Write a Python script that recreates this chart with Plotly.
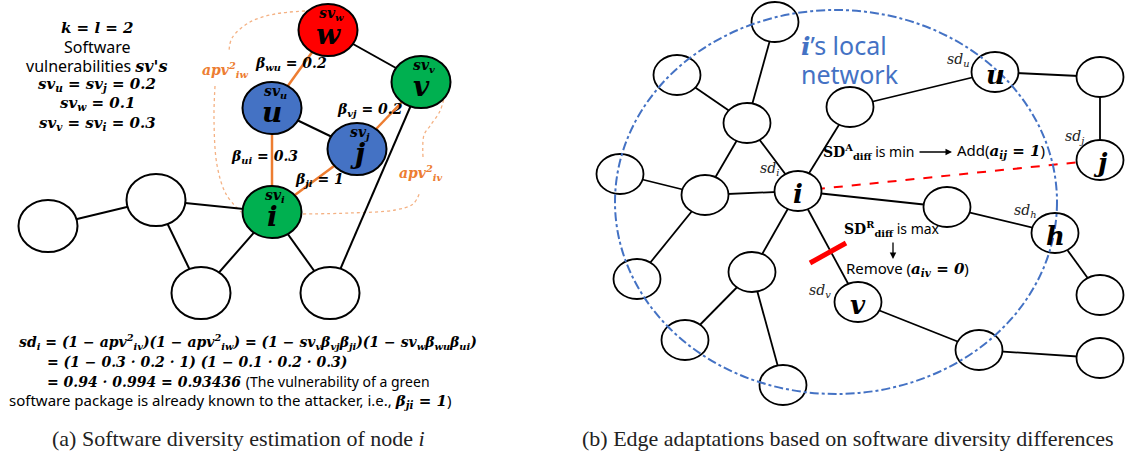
import plotly.graph_objects as go

W, H = 1130, 455
SERIF = "Liberation Serif"
MATH = "DejaVu Serif"
SANS = "Noto Sans"

# ---------------- Panel (a): data ----------------
a_names = ["w", "v", "u", "j", "i", "A", "B", "C", "D"]
a_x = [328, 421, 272, 357, 272, 48, 156, 201, 330]
a_y = [30, 82, 108, 149, 212, 226, 200, 293, 293]
a_fill = ["#FF0000", "#00B050", "#4472C4", "#4472C4", "#00B050", "white", "white", "white", "white"]
a_black_edges = [("w", "v"), ("u", "j"), ("A", "B"), ("B", "i"), ("B", "C"), ("C", "i"), ("i", "D"), ("D", "v")]
a_orange_edges = [("w", "u"), ("u", "i"), ("j", "i"), ("j", "v")]
a_letters = ["w", "v", "u", "j", "i"]
a_sv_subs = ["w", "v", "u", "j", "i"]
beta_labels = ["β<sub>wu</sub> = 0.2", "β<sub>vj</sub> = 0.2", "β<sub>ui</sub> = 0.3", "β<sub>ji</sub> = 1"]
beta_x = [291, 370, 264, 319]
beta_y = [64, 110, 157, 180]
apv_labels = ["apv<sup>2</sup><sub>iw</sub>", "apv<sup>2</sup><sub>iv</sub>"]
apv_x = [225, 421]
apv_y = [70, 173]
curve1_x = [305, 275, 250, 232, 229]
curve1_y = [11, 14, 22, 38, 52]
curve2_x = [215, 214, 217, 226, 241]
curve2_y = [86, 120, 165, 194, 212]
curve3_x = [303, 350, 395, 413, 420]
curve3_y = [214, 213, 210, 204, 192]
curve4_x = [423, 424, 430, 440, 444]
curve4_y = [157, 135, 126, 111, 98]

# ---------------- Panel (b): data ----------------
b_names = ["i", "u", "j", "h", "v", "N1", "N15", "N3", "N4", "N5", "N2", "N10",
           "N11", "N12", "N13", "N14", "Nmid", "N6", "M", "R"]
b_x = [798, 995, 1100, 1055, 858, 775, 677, 747, 850, 1100, 620, 705,
       637, 752, 685, 783, 947, 1100, 979, 1100]
b_y = [191, 72, 160, 233, 302, 22, 75, 123, 107, 77, 174, 195,
       279, 272, 340, 385, 207, 295, 350, 358]
b_edges = [("N1", "N3"), ("N15", "N3"), ("N3", "i"), ("N3", "N10"), ("N2", "N10"),
           ("N10", "i"), ("N10", "N11"), ("N4", "i"), ("N4", "u"), ("u", "N5"),
           ("N5", "j"), ("i", "Nmid"), ("Nmid", "h"), ("h", "N6"), ("i", "N12"),
           ("N12", "N13"), ("N12", "N14"), ("i", "v"), ("v", "M"), ("M", "R")]
b_letters = ["i", "u", "j", "h", "v"]
sd_subs = ["i", "u", "j", "h", "v"]
sd_x = [769, 958, 1074, 1025, 820]
sd_y = [169, 60, 137, 211, 291]
added_edge = ("i", "j")
removed_mark_x = [810, 846]
removed_mark_y = [263, 243]
local_center = (836, 202)
local_radius = (221, 192)

fig = go.Figure()

apos = {n: (x, y) for n, x, y in zip(a_names, a_x, a_y)}
bpos = {n: (x, y) for n, x, y in zip(b_names, b_x, b_y)}

def add_edges(edges, pos, color, width, dash="solid"):
    xs, ys = [], []
    for s, t in edges:
        xs += [pos[s][0], pos[t][0], None]
        ys += [pos[s][1], pos[t][1], None]
    fig.add_trace(go.Scatter(x=xs, y=ys, mode="lines",
                             line=dict(color=color, width=width, dash=dash),
                             hoverinfo="skip", showlegend=False))

# dotted apv curves
for cx, cy in [(curve1_x, curve1_y), (curve2_x, curve2_y), (curve3_x, curve3_y), (curve4_x, curve4_y)]:
    fig.add_trace(go.Scatter(x=cx, y=cy, mode="lines",
                             line=dict(color="#F4B183", width=1.3, dash="dot", shape="spline"),
                             hoverinfo="skip", showlegend=False))

add_edges(a_black_edges, apos, "black", 2)
add_edges(a_orange_edges, apos, "#ED7D31", 2.5)
add_edges(b_edges, bpos, "black", 1.8)
add_edges([added_edge], bpos, "#FF0000", 2, dash="dash")
fig.add_trace(go.Scatter(x=removed_mark_x, y=removed_mark_y, mode="lines",
                         line=dict(color="#FF0000", width=5),
                         hoverinfo="skip", showlegend=False))

shapes = []
for n, x, y, f in zip(a_names, a_x, a_y, a_fill):
    shapes.append(dict(type="circle", xref="x", yref="y", x0=x - 29.5, x1=x + 29.5,
                       y0=y - 26, y1=y + 26, fillcolor=f,
                       line=dict(color="black", width=2), layer="above"))
for n, x, y in zip(b_names, b_x, b_y):
    shapes.append(dict(type="circle", xref="x", yref="y", x0=x - 23.5, x1=x + 23.5,
                       y0=y - 20, y1=y + 20, fillcolor="white",
                       line=dict(color="black", width=1.8), layer="above"))
cx0, cy0 = local_center
rx, ry = local_radius
shapes.append(dict(type="circle", xref="x", yref="y", x0=cx0 - rx, x1=cx0 + rx,
                   y0=cy0 - ry, y1=cy0 + ry, fillcolor="rgba(0,0,0,0)",
                   line=dict(color="#4472C4", width=2, dash="dashdot"), layer="above"))

ann = []

def txt(x, y, text, size=15, color="black", family=MATH, xanchor="center", yanchor="middle"):
    ann.append(dict(x=x, y=y, xref="x", yref="y", text=text, showarrow=False,
                    font=dict(size=size, color=color, family=family),
                    xanchor=xanchor, yanchor=yanchor))

def mb(s):
    return f'<span style="font-family:{MATH}"><b><i>{s}</i></b></span>'

def mi(s):
    return f'<span style="font-family:{MATH}"><i>{s}</i></span>'

def sans(s):
    return f'<span style="font-family:{SANS}">{s}</span>'

# node letters and sv labels (a)
for n in a_letters:
    x, y = apos[n]
    txt(x, y + 4, mb(n), size=28)
for n in a_sv_subs:
    x, y = apos[n]
    txt(x + 3, y - 16, mb(f"sv<sub>{n}</sub>"), size=14)
for t, x, y in zip(beta_labels, beta_x, beta_y):
    txt(x, y, mb(t), size=14)
for t, x, y in zip(apv_labels, apv_x, apv_y):
    txt(x, y, mb(t), size=14, color="#ED7D31")

# left text block
left_lines = [
    mb("k = l = 2"),
    sans("Software"),
    sans("vulnerabilities ") + mb("sv's"),
    mb("sv<sub>u</sub> = sv<sub>j</sub> = 0.2"),
    mb("sv<sub>w</sub> = 0.1"),
    mb("sv<sub>v</sub> = sv<sub>i</sub> = 0.3"),
]
left_size = [15, 16, 16, 15, 15, 15]
left_y = [28, 47, 66, 84, 103, 123]
for t, s, y in zip(left_lines, left_size, left_y):
    txt(97, y, t, size=s)

# formula
formula = [
    mb("sd<sub>i</sub> = (1 − apv<sup>2</sup><sub>iv</sub>)(1 − apv<sup>2</sup><sub>iw</sub>) = (1 − sv<sub>v</sub>β<sub>vj</sub>β<sub>ji</sub>)(1 − sv<sub>w</sub>β<sub>wu</sub>β<sub>ui</sub>)"),
    mb("= (1 − 0.3 · 0.2 · 1) (1 − 0.1 · 0.2 · 0.3)"),
    mb("= 0.94 · 0.994 = 0.93436 ") + sans("(The vulnerability of a green"),
    sans("software package is already known to the attacker, i.e., ") + mb("β<sub>ji</sub> = 1") + sans(")"),
]
formula_x = [17, 45, 45, 7]
formula_y = [342, 362, 381, 400]
formula_size = [14, 14, 14, 15]
for t, x, y, s in zip(formula, formula_x, formula_y, formula_size):
    txt(x, y, t, size=s, xanchor="left")

# panel (b) letters and sd labels
for n in b_letters:
    x, y = bpos[n]
    txt(x, y + 3, mb(n), size=26)
for s, x, y in zip(sd_subs, sd_x, sd_y):
    txt(x, y, mi(f"sd<sub>{s}</sub>"), size=14, color="#222222")

txt(799, 45, mb("i") + sans("’s local"), size=25, color="#4472C4", xanchor="left")
txt(799, 74, sans("network"), size=25, color="#4472C4", xanchor="left")

txt(868, 152, f'<span style="font-family:{MATH}"><b>SD<sup>A</sup><sub>diff</sub></b></span>' + sans(" is min"), size=14)
txt(1001, 150, sans("Add(") + mb("a<sub>ij</sub> = 1") + sans(")"), size=15)
txt(892, 229, f'<span style="font-family:{MATH}"><b>SD<sup>R</sup><sub>diff</sub></b></span>' + sans(" is max"), size=14)
txt(907, 268, sans("Remove (") + mb("a<sub>iv</sub> = 0") + sans(")"), size=15)

ann.append(dict(x=952, y=152, ax=918, ay=152, xref="x", yref="y", axref="x", ayref="y",
                text="", showarrow=True, arrowhead=2, arrowsize=1, arrowwidth=1.3, arrowcolor="black"))
ann.append(dict(x=893, y=259, ax=893, ay=241, xref="x", yref="y", axref="x", ayref="y",
                text="", showarrow=True, arrowhead=2, arrowsize=1, arrowwidth=1.3, arrowcolor="black"))

# captions
txt(238, 438, "(a) Software diversity estimation of node <i>i</i>", size=22, color="#222222", family=SERIF)
txt(848, 438, "(b) Edge adaptations based on software diversity differences", size=22, color="#222222", family=SERIF)

fig.update_layout(
    width=W, height=H, margin=dict(l=0, r=0, t=0, b=0),
    paper_bgcolor="white", plot_bgcolor="white",
    xaxis=dict(range=[0, W], visible=False, fixedrange=True),
    yaxis=dict(range=[H, 0], visible=False, fixedrange=True),
    shapes=shapes, annotations=ann, showlegend=False,
)

fig.write_html("out.html", config={"displayModeBar": False},
               post_script="document.body.style.margin='0';document.body.style.overflow='hidden';")
